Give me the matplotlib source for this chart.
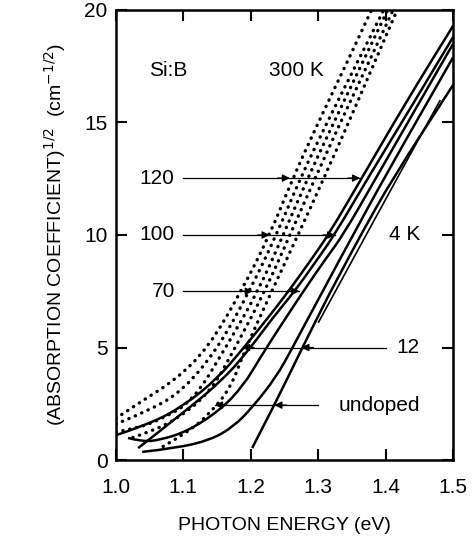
import matplotlib.pyplot as plt
from matplotlib.path import Path
from matplotlib.patches import PathPatch

plt.rcParams['font.family'] = ['Liberation Sans', 'DejaVu Sans']

# 300 K curves (dotted), photon energy (eV) vs sqrt(absorption)
d120_e = [1.0, 1.04, 1.09, 1.137, 1.186, 1.228, 1.262, 1.30, 1.34, 1.379]
d120_a = [1.85, 2.65, 3.6, 5.0, 7.5, 10.0, 12.5, 15.0, 17.5, 20.0]
d100_e = [1.0, 1.05, 1.10, 1.152, 1.198, 1.238, 1.273, 1.313, 1.355, 1.397]
d100_a = [1.6, 2.2, 3.1, 5.0, 7.5, 10.0, 12.5, 15.0, 17.5, 20.0]
d70_e = [1.0, 1.03, 1.065, 1.114, 1.163, 1.211, 1.248, 1.284, 1.323, 1.363, 1.403]
d70_a = [1.25, 1.4, 1.78, 2.6, 5.0, 7.5, 10.0, 12.5, 15.0, 17.5, 20.0]
d12_e = [1.025, 1.05, 1.09, 1.14, 1.177, 1.221, 1.258, 1.295, 1.333, 1.372, 1.411]
d12_a = [1.0, 1.25, 1.8, 3.0, 5.0, 7.5, 10.0, 12.5, 15.0, 17.5, 20.0]
dund_e = [1.07, 1.11, 1.14, 1.17, 1.19, 1.231, 1.270, 1.308, 1.345, 1.381, 1.417]
dund_a = [0.6, 1.3, 2.1, 3.2, 4.8, 7.5, 10.0, 12.5, 15.0, 17.5, 20.0]

# 4 K curves (solid)
s1_e = [1.0, 1.05, 1.10, 1.15, 1.19, 1.225, 1.256, 1.287, 1.315, 1.364, 1.43, 1.5]
s1_a = [1.1, 1.6, 2.4, 3.6, 5.0, 6.3, 7.5, 8.8, 10.0, 12.5, 15.9, 19.3]
s2_e = [1.033, 1.10, 1.16, 1.20, 1.232, 1.265, 1.296, 1.324, 1.373, 1.44, 1.5]
s2_a = [0.53, 2.1, 3.6, 5.0, 6.3, 7.5, 8.8, 10.0, 12.5, 15.8, 18.8]
s3_e = [1.018, 1.04, 1.065, 1.105, 1.154, 1.189, 1.215, 1.245, 1.278, 1.31, 1.337,
        1.385, 1.45, 1.5]
s3_a = [0.98, 0.81, 0.89, 1.26, 2.2, 3.3, 4.6, 6.0, 7.5, 8.9, 10.0, 12.5, 15.9, 18.5]
s4_e = [1.039, 1.09, 1.14, 1.174, 1.203, 1.238, 1.262, 1.285, 1.305, 1.328, 1.35,
        1.397, 1.5]
s4_a = [0.36, 0.53, 0.89, 1.47, 2.36, 3.7, 5.0, 6.3, 7.4, 8.7, 9.9, 12.5, 17.9]
s5_e = [1.202, 1.235, 1.275, 1.295, 1.315, 1.34, 1.363, 1.41, 1.5]
s5_a = [0.53, 2.44, 4.9, 6.1, 7.3, 8.7, 10.0, 12.5, 16.67]
thin_e = [1.30, 1.40, 1.481]
thin_a = [6.1, 11.6, 16.0]

dotted = [(d120_e, d120_a), (d100_e, d100_a), (d70_e, d70_a), (d12_e, d12_a), (dund_e, dund_a)]
solid = [(s1_e, s1_a), (s2_e, s2_a), (s3_e, s3_a), (s4_e, s4_a), (s5_e, s5_a)]

# arrow labels: text, level, line start, first tip, second tip, label x
arrow_labels = ['120', '100', '70', '12', 'undoped']
arrow_levels = [12.53, 10.0, 7.5, 5.0, 2.44]
arrow_start = [1.099, 1.099, 1.099, 1.40, 1.30]
arrow_tip1 = [1.258, 1.228, 1.203, 1.275, 1.235]
arrow_tip2 = [1.362, 1.325, 1.272, 1.187, 1.147]
label_x = [1.061, 1.061, 1.07, 1.433, 1.39]


def smooth(e, a):
    # quadratic Bezier through midpoints, control points at the read values
    pts = list(zip(e, a))
    verts = [pts[0]]
    codes = [Path.MOVETO]
    for i in range(1, len(pts) - 1):
        mid = ((pts[i][0] + pts[i + 1][0]) / 2, (pts[i][1] + pts[i + 1][1]) / 2)
        verts += [pts[i], mid]
        codes += [Path.CURVE3, Path.CURVE3]
    verts.append(pts[-1])
    codes.append(Path.LINETO)
    return Path(verts, codes)


fig = plt.figure(figsize=(4.73, 5.46), dpi=100)
ax = fig.add_axes([0.245, 0.1575, 0.713, 0.8242])

for e, a in dotted:
    p = PathPatch(smooth(e, a), fill=False, edgecolor='black', lw=2.4,
                  linestyle=(0, (0.1, 2.0)), capstyle='round')
    ax.add_patch(p)
for e, a in solid:
    ax.add_patch(PathPatch(smooth(e, a), fill=False, edgecolor='black', lw=1.8,
                           joinstyle='round'))
ax.add_patch(PathPatch(smooth(thin_e, thin_a), fill=False, edgecolor='black', lw=1.2))

for lab, lev, x0, t1, t2, lx in zip(arrow_labels, arrow_levels, arrow_start,
                                    arrow_tip1, arrow_tip2, label_x):
    ax.plot([x0, t2], [lev, lev], color='black', lw=0.9)
    for t in (t1, t2):
        d = 0.018 if t > x0 else -0.018
        ax.annotate('', xy=(t, lev), xytext=(t - d, lev),
                    arrowprops=dict(arrowstyle='-|>', color='black', lw=0.9,
                                    mutation_scale=11, shrinkA=0, shrinkB=0))
    ax.text(lx, lev, lab, fontsize=15, ha='center', va='center')

ax.text(1.078, 17.3, 'Si:B', fontsize=15, ha='center', va='center')
ax.text(1.267, 17.3, '300 K', fontsize=15, ha='center', va='center')
ax.text(1.428, 10.0, '4 K', fontsize=15, ha='center', va='center')

ax.set_xlim(1.0, 1.5)
ax.set_ylim(0, 20)
ax.set_xticks([1.0, 1.1, 1.2, 1.3, 1.4, 1.5])
ax.set_xticklabels(['1.0', '1.1', '1.2', '1.3', '1.4', '1.5'])
ax.set_yticks([0, 5, 10, 15, 20])
ax.tick_params(direction='in', length=8, width=1.5, labelsize=15,
               top=True, right=True, pad=6)
ax.tick_params(axis='x', pad=13)
for s in ax.spines.values():
    s.set_linewidth(1.8)

ax.set_xlabel('PHOTON ENERGY (eV)', fontsize=14, labelpad=14)
ax.set_ylabel(r'(ABSORPTION COEFFICIENT)$^{1/2}$  (cm$^{-1/2}$)', fontsize=14,
              labelpad=12)

fig.savefig('out.png', dpi=100)
